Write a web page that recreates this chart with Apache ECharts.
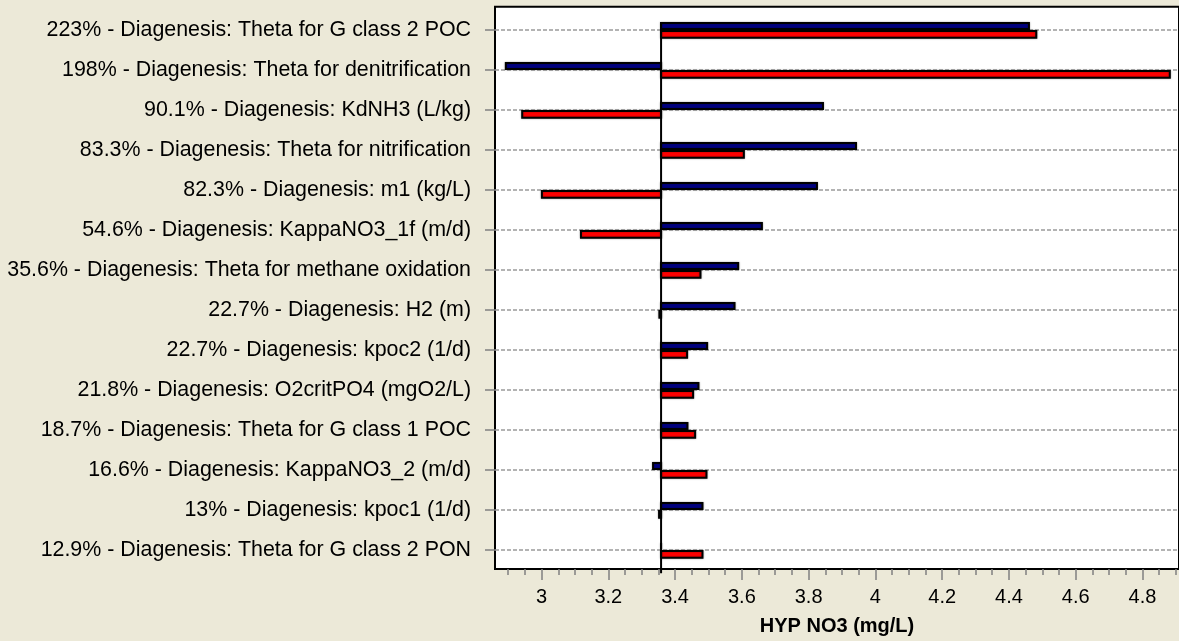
<!DOCTYPE html>
<html><head><meta charset="utf-8">
<script src="https://cdn.jsdelivr.net/npm/echarts@6/dist/echarts.min.js"></script>
<style>html,body{margin:0;padding:0;background:#ECE9D8}#c{width:1179px;height:641px}</style>
</head><body><div id="c"></div>
<script>
const categories = [
  '223% - Diagenesis: Theta for G class 2 POC',
  '198% - Diagenesis: Theta for denitrification',
  '90.1% - Diagenesis: KdNH3 (L/kg)',
  '83.3% - Diagenesis: Theta for nitrification',
  '82.3% - Diagenesis: m1 (kg/L)',
  '54.6% - Diagenesis: KappaNO3_1f (m/d)',
  '35.6% - Diagenesis: Theta for methane oxidation',
  '22.7% - Diagenesis: H2 (m)',
  '22.7% - Diagenesis: kpoc2 (1/d)',
  '21.8% - Diagenesis: O2critPO4 (mgO2/L)',
  '18.7% - Diagenesis: Theta for G class 1 POC',
  '16.6% - Diagenesis: KappaNO3_2 (m/d)',
  '13% - Diagenesis: kpoc1 (1/d)',
  '12.9% - Diagenesis: Theta for G class 2 PON'
];
const blueValues = [4.460, 2.893, 3.843, 3.942, 3.825, 3.660, 3.589, 3.578, 3.496, 3.470, 3.437, 3.334, 3.482, 3.358];
const redValues  = [4.482, 4.882, 2.942, 3.606, 3.001, 3.118, 3.476, 3.353, 3.436, 3.454, 3.460, 3.494, 3.352, 3.482];
const baseValue = 3.358;
const xMajorTicks = [3, 3.2, 3.4, 3.6, 3.8, 4, 4.2, 4.4, 4.6, 4.8];
const xMinorTicks = [2.9, 2.95, 3.05, 3.1, 3.15, 3.25, 3.3, 3.35, 3.45, 3.5, 3.55, 3.65, 3.7, 3.75,
  3.85, 3.9, 3.95, 4.05, 4.1, 4.15, 4.25, 4.3, 4.35, 4.45, 4.5, 4.55, 4.65, 4.7, 4.75, 4.85, 4.9];
const xTitle = 'HYP NO3 (mg/L)';
const xMin = 2.8605, xMax = 4.9095;

const FONT = '"Liberation Sans", Arial, sans-serif';

function barRenderer(side, color) {
  return function (params, api) {
    const v = api.value(0), idx = api.value(1);
    const p0 = api.coord([baseValue, idx]);
    const p1 = api.coord([v, idx]);
    const x = Math.min(p0[0], p1[0]);
    const w = Math.abs(p1[0] - p0[0]);
    const y = side < 0 ? p0[1] - 7 : p0[1] + 1;
    const h = side < 0 ? 6 : 6.7;
    return {
      type: 'rect',
      shape: { x: x, y: y, width: w, height: h },
      style: { fill: color, stroke: '#000', lineWidth: 2, shadowColor: 'rgba(0,0,0,0.35)', shadowBlur: 2 }
    };
  };
}

const chart = echarts.init(document.getElementById('c'), null, { renderer: 'canvas' });
chart.setOption({
  backgroundColor: '#ECE9D8',
  animation: false,
  textStyle: { fontFamily: FONT },
  grid: [
    { left: 495, right: -2, top: 6.7, bottom: 67.7, show: true, backgroundColor: '#fff', borderColor: '#000', borderWidth: 2, z: 0 },
    { left: 495, right: -2, top: 30, height: 520 }
  ],
  xAxis: [
    {
      gridIndex: 0, type: 'value', min: xMin, max: xMax, position: 'bottom',
      axisLine: { show: true, lineStyle: { color: '#000', width: 2 } },
      axisTick: { show: true, customValues: xMajorTicks, length: 11, lineStyle: { color: '#808080', width: 1.5 } },
      axisLabel: { show: true, customValues: xMajorTicks, fontSize: 20, color: '#000', margin: 18, fontFamily: FONT },
      splitLine: { show: false },
      name: xTitle, nameLocation: 'middle', nameGap: 47,
      nameTextStyle: { fontSize: 20, fontWeight: 'bold', color: '#000', fontFamily: FONT }
    },
    {
      gridIndex: 0, type: 'value', min: xMin, max: xMax, position: 'bottom',
      axisLine: { show: false },
      axisTick: { show: true, customValues: xMinorTicks, length: 6, lineStyle: { color: '#808080', width: 1.5 } },
      axisLabel: { show: false },
      splitLine: { show: false }
    },
    { gridIndex: 1, type: 'value', min: xMin, max: xMax, show: false }
  ],
  yAxis: [
    { gridIndex: 0, type: 'value', min: 0, max: 1, show: false },
    {
      gridIndex: 1, type: 'category', data: categories, inverse: true, boundaryGap: false, z: 1,
      axisLine: { show: false },
      axisTick: { show: true, length: 10, interval: 0, lineStyle: { color: '#808080', width: 1.5 } },
      axisLabel: { show: true, interval: 0, fontSize: 21.4, color: '#000', margin: 24, fontFamily: FONT },
      splitLine: { show: true, interval: 0, lineStyle: { type: [4, 2], color: '#9a9a9a', width: 1.5 } }
    }
  ],
  series: [
    {
      type: 'custom', xAxisIndex: 2, yAxisIndex: 1, clip: false, z: 3,
      encode: { x: 0, y: 1 },
      data: blueValues.map((v, i) => [v, i]),
      renderItem: barRenderer(-1, '#000080')
    },
    {
      type: 'custom', xAxisIndex: 2, yAxisIndex: 1, clip: false, z: 3,
      encode: { x: 0, y: 1 },
      data: redValues.map((v, i) => [v, i]),
      renderItem: barRenderer(1, '#FF0000')
    },
    {
      type: 'custom', xAxisIndex: 2, yAxisIndex: 1, clip: false, z: 4,
      encode: { x: 0, y: 1 },
      data: [[baseValue, 0]],
      renderItem: function (params, api) {
        const top = api.coord([baseValue, 0]);
        const bottom = api.coord([baseValue, categories.length - 1]);
        const band = (bottom[1] - top[1]) / (categories.length - 1);
        return {
          type: 'line',
          shape: { x1: top[0], y1: top[1] - band * 0.2, x2: bottom[0], y2: bottom[1] + band * 0.58 },
          style: { stroke: '#000', lineWidth: 2 }
        };
      }
    }
  ]
});
</script></body></html>
